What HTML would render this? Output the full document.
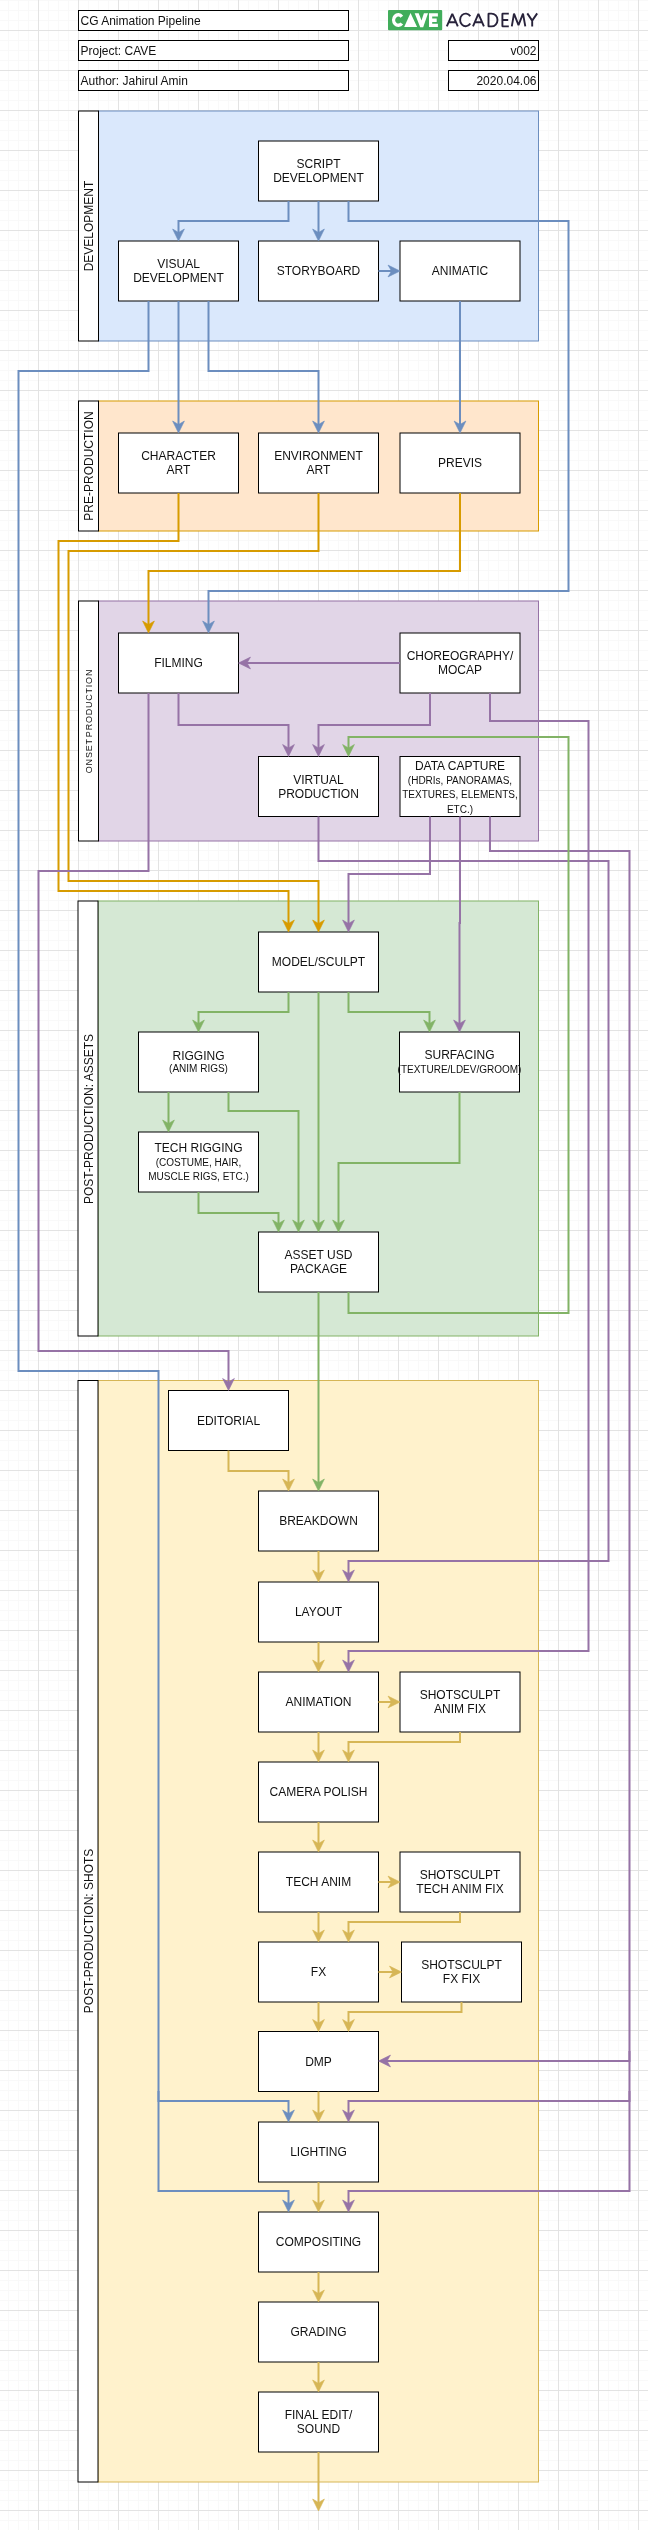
<!DOCTYPE html>
<html><head><meta charset="utf-8"><title>CG Animation Pipeline</title><style>
*{margin:0;padding:0;box-sizing:border-box}
html,body{width:648px;height:2530px;overflow:hidden;background:#fff}
body{position:relative;font-family:"Liberation Sans",sans-serif;
 background-color:#fff;
 background-image:
  linear-gradient(to right, #e3e3e3 1px, transparent 1px),
  linear-gradient(to bottom, #e3e3e3 1px, transparent 1px),
  linear-gradient(to right, #f9f9f9 1px, transparent 1px),
  linear-gradient(to bottom, #f9f9f9 1px, transparent 1px);
 background-size:40px 40px,40px 40px,10px 10px,10px 10px;
 background-position:38px 0,0 30px,8px 0,0 0;
}
svg{position:absolute;left:0;top:0}
.txt{position:absolute;left:0;top:0;width:648px;height:2530px;will-change:transform}
.lb{position:absolute;width:120px;height:60px;display:flex;align-items:center;justify-content:center;text-align:center;font-size:12px;line-height:1.2;color:#111;white-space:nowrap}
.s10{font-size:10px}
.s10b{font-size:10px;line-height:12px;display:block}
.vl{position:absolute;transform:translate(-50%,-50%) rotate(-90deg);white-space:nowrap;color:#111;line-height:1}
.hd{position:absolute;height:20px;line-height:20px;font-size:12px;color:#111;white-space:nowrap}
.acad{position:absolute;left:445px;top:9px;font-size:19px;line-height:22px;color:#27233b;letter-spacing:0px;white-space:nowrap}
</style></head>
<body>
<svg width="648" height="2530" viewBox="0 0 648 2530">
<rect x="98.5" y="111" width="440" height="230" fill="#dae8fc" stroke="#6c8ebf"/>
<rect x="78.5" y="111" width="20" height="230" fill="#fff" stroke="#000"/>
<rect x="98.5" y="401" width="440" height="130" fill="#ffe6cc" stroke="#d79b00"/>
<rect x="78.5" y="401" width="20" height="130" fill="#fff" stroke="#000"/>
<rect x="98.5" y="601" width="440" height="240" fill="#e1d5e7" stroke="#9673a6"/>
<rect x="78.5" y="601" width="20" height="240" fill="#fff" stroke="#000"/>
<rect x="98" y="901" width="440.5" height="435" fill="#d5e8d4" stroke="#82b366"/>
<rect x="78" y="901" width="20" height="435" fill="#fff" stroke="#000"/>
<rect x="98" y="1380.5" width="440.5" height="1101.5" fill="#fff2cc" stroke="#d6b656"/>
<rect x="78" y="1380.5" width="20" height="1101.5" fill="#fff" stroke="#000"/>
<rect x="258.5" y="141" width="120" height="60" fill="#fff" stroke="#000"/>
<rect x="118.5" y="241" width="120" height="60" fill="#fff" stroke="#000"/>
<rect x="258.5" y="241" width="120" height="60" fill="#fff" stroke="#000"/>
<rect x="400" y="241" width="120" height="60" fill="#fff" stroke="#000"/>
<rect x="118.5" y="433" width="120" height="60" fill="#fff" stroke="#000"/>
<rect x="258.5" y="433" width="120" height="60" fill="#fff" stroke="#000"/>
<rect x="400" y="433" width="120" height="60" fill="#fff" stroke="#000"/>
<rect x="118.5" y="633" width="120" height="60" fill="#fff" stroke="#000"/>
<rect x="400" y="633" width="120" height="60" fill="#fff" stroke="#000"/>
<rect x="258.5" y="756.5" width="120" height="60" fill="#fff" stroke="#000"/>
<rect x="400" y="756.5" width="120" height="60" fill="#fff" stroke="#000"/>
<rect x="258.5" y="932" width="120" height="60" fill="#fff" stroke="#000"/>
<rect x="138.5" y="1032" width="120" height="60" fill="#fff" stroke="#000"/>
<rect x="399.5" y="1032" width="120" height="60" fill="#fff" stroke="#000"/>
<rect x="138.5" y="1132" width="120" height="60" fill="#fff" stroke="#000"/>
<rect x="258.5" y="1232" width="120" height="60" fill="#fff" stroke="#000"/>
<rect x="168.5" y="1390.5" width="120" height="60" fill="#fff" stroke="#000"/>
<rect x="258.5" y="1491" width="120" height="60" fill="#fff" stroke="#000"/>
<rect x="258.5" y="1582" width="120" height="60" fill="#fff" stroke="#000"/>
<rect x="258.5" y="1672" width="120" height="60" fill="#fff" stroke="#000"/>
<rect x="400" y="1672" width="120" height="60" fill="#fff" stroke="#000"/>
<rect x="258.5" y="1762" width="120" height="60" fill="#fff" stroke="#000"/>
<rect x="258.5" y="1852" width="120" height="60" fill="#fff" stroke="#000"/>
<rect x="400" y="1852" width="120" height="60" fill="#fff" stroke="#000"/>
<rect x="258.5" y="1942" width="120" height="60" fill="#fff" stroke="#000"/>
<rect x="401.5" y="1942" width="120" height="60" fill="#fff" stroke="#000"/>
<rect x="258.5" y="2031.5" width="120" height="60" fill="#fff" stroke="#000"/>
<rect x="258.5" y="2122" width="120" height="60" fill="#fff" stroke="#000"/>
<rect x="258.5" y="2212" width="120" height="60" fill="#fff" stroke="#000"/>
<rect x="258.5" y="2302" width="120" height="60" fill="#fff" stroke="#000"/>
<rect x="258.5" y="2392" width="120" height="60" fill="#fff" stroke="#000"/>
<path d="M288.5,201 L288.5,221 L178.5,221 L178.5,234" fill="none" stroke="#6c8ebf" stroke-width="2"/>
<polygon points="178.5,241 172.6,229 178.5,232.5 184.4,229" fill="#6c8ebf" stroke="#6c8ebf" stroke-width="0.6"/>
<path d="M318.5,201 L318.5,234" fill="none" stroke="#6c8ebf" stroke-width="2"/>
<polygon points="318.5,241 312.6,229 318.5,232.5 324.4,229" fill="#6c8ebf" stroke="#6c8ebf" stroke-width="0.6"/>
<path d="M348.5,201 L348.5,221 L568.5,221 L568.5,591 L208.5,591 L208.5,626" fill="none" stroke="#6c8ebf" stroke-width="2"/>
<polygon points="208.5,633 202.6,621 208.5,624.5 214.4,621" fill="#6c8ebf" stroke="#6c8ebf" stroke-width="0.6"/>
<path d="M378.5,271 L393,271" fill="none" stroke="#6c8ebf" stroke-width="2"/>
<polygon points="400,271 388,265.1 391.5,271 388,276.9" fill="#6c8ebf" stroke="#6c8ebf" stroke-width="0.6"/>
<path d="M460,301 L460,426" fill="none" stroke="#6c8ebf" stroke-width="2"/>
<polygon points="460,433 454.1,421 460,424.5 465.9,421" fill="#6c8ebf" stroke="#6c8ebf" stroke-width="0.6"/>
<path d="M178.5,301 L178.5,426" fill="none" stroke="#6c8ebf" stroke-width="2"/>
<polygon points="178.5,433 172.6,421 178.5,424.5 184.4,421" fill="#6c8ebf" stroke="#6c8ebf" stroke-width="0.6"/>
<path d="M208.5,301 L208.5,371 L318.5,371 L318.5,426" fill="none" stroke="#6c8ebf" stroke-width="2"/>
<polygon points="318.5,433 312.6,421 318.5,424.5 324.4,421" fill="#6c8ebf" stroke="#6c8ebf" stroke-width="0.6"/>
<path d="M148.5,301 L148.5,371 L18.5,371 L18.5,1371 L158.5,1371 L158.5,2101 L288.5,2101 L288.5,2115" fill="none" stroke="#6c8ebf" stroke-width="2"/>
<polygon points="288.5,2122 282.6,2110 288.5,2113.5 294.4,2110" fill="#6c8ebf" stroke="#6c8ebf" stroke-width="0.6"/>
<path d="M158.5,2091 L158.5,2191 L288.5,2191 L288.5,2205" fill="none" stroke="#6c8ebf" stroke-width="2"/>
<polygon points="288.5,2212 282.6,2200 288.5,2203.5 294.4,2200" fill="#6c8ebf" stroke="#6c8ebf" stroke-width="0.6"/>
<path d="M178.5,493 L178.5,541 L58.5,541 L58.5,891 L288.5,891 L288.5,925" fill="none" stroke="#d79b00" stroke-width="2"/>
<polygon points="288.5,932 282.6,920 288.5,923.5 294.4,920" fill="#d79b00" stroke="#d79b00" stroke-width="0.6"/>
<path d="M318.5,493 L318.5,551 L68.5,551 L68.5,881 L318.5,881 L318.5,925" fill="none" stroke="#d79b00" stroke-width="2"/>
<polygon points="318.5,932 312.6,920 318.5,923.5 324.4,920" fill="#d79b00" stroke="#d79b00" stroke-width="0.6"/>
<path d="M460,493 L460,571 L148.5,571 L148.5,626" fill="none" stroke="#d79b00" stroke-width="2"/>
<polygon points="148.5,633 142.6,621 148.5,624.5 154.4,621" fill="#d79b00" stroke="#d79b00" stroke-width="0.6"/>
<path d="M400,663 L245.5,663" fill="none" stroke="#9673a6" stroke-width="2"/>
<polygon points="238.5,663 250.5,657.1 247,663 250.5,668.9" fill="#9673a6" stroke="#9673a6" stroke-width="0.6"/>
<path d="M178.5,693 L178.5,725 L288.5,725 L288.5,749.5" fill="none" stroke="#9673a6" stroke-width="2"/>
<polygon points="288.5,756.5 282.6,744.5 288.5,748 294.4,744.5" fill="#9673a6" stroke="#9673a6" stroke-width="0.6"/>
<path d="M430,693 L430,725 L318.5,725 L318.5,749.5" fill="none" stroke="#9673a6" stroke-width="2"/>
<polygon points="318.5,756.5 312.6,744.5 318.5,748 324.4,744.5" fill="#9673a6" stroke="#9673a6" stroke-width="0.6"/>
<path d="M490,693 L490,721 L588.5,721 L588.5,1651 L348.5,1651 L348.5,1665" fill="none" stroke="#9673a6" stroke-width="2"/>
<polygon points="348.5,1672 342.6,1660 348.5,1663.5 354.4,1660" fill="#9673a6" stroke="#9673a6" stroke-width="0.6"/>
<path d="M148.5,693 L148.5,871 L38.5,871 L38.5,1351 L228.5,1351 L228.5,1383.5" fill="none" stroke="#9673a6" stroke-width="2"/>
<polygon points="228.5,1390.5 222.6,1378.5 228.5,1382 234.4,1378.5" fill="#9673a6" stroke="#9673a6" stroke-width="0.6"/>
<path d="M318.5,816.5 L318.5,861 L608.5,861 L608.5,1561 L348.5,1561 L348.5,1575" fill="none" stroke="#9673a6" stroke-width="2"/>
<polygon points="348.5,1582 342.6,1570 348.5,1573.5 354.4,1570" fill="#9673a6" stroke="#9673a6" stroke-width="0.6"/>
<path d="M430,816.5 L430,874 L348.5,874 L348.5,925" fill="none" stroke="#9673a6" stroke-width="2"/>
<polygon points="348.5,932 342.6,920 348.5,923.5 354.4,920" fill="#9673a6" stroke="#9673a6" stroke-width="0.6"/>
<path d="M460,816.5 L460,923 L459.5,923 L459.5,1025" fill="none" stroke="#9673a6" stroke-width="2"/>
<polygon points="459.5,1032 453.6,1020 459.5,1023.5 465.4,1020" fill="#9673a6" stroke="#9673a6" stroke-width="0.6"/>
<path d="M490,816.5 L490,851 L629.5,851 L629.5,2061 L385.5,2061" fill="none" stroke="#9673a6" stroke-width="2"/>
<polygon points="378.5,2061 390.5,2055.1 387,2061 390.5,2066.9" fill="#9673a6" stroke="#9673a6" stroke-width="0.6"/>
<path d="M629.5,2051 L629.5,2101 L348.5,2101 L348.5,2115" fill="none" stroke="#9673a6" stroke-width="2"/>
<polygon points="348.5,2122 342.6,2110 348.5,2113.5 354.4,2110" fill="#9673a6" stroke="#9673a6" stroke-width="0.6"/>
<path d="M629.5,2091 L629.5,2191 L348.5,2191 L348.5,2205" fill="none" stroke="#9673a6" stroke-width="2"/>
<polygon points="348.5,2212 342.6,2200 348.5,2203.5 354.4,2200" fill="#9673a6" stroke="#9673a6" stroke-width="0.6"/>
<path d="M288.5,992 L288.5,1012 L198.5,1012 L198.5,1025" fill="none" stroke="#82b366" stroke-width="2"/>
<polygon points="198.5,1032 192.6,1020 198.5,1023.5 204.4,1020" fill="#82b366" stroke="#82b366" stroke-width="0.6"/>
<path d="M318.5,992 L318.5,1225" fill="none" stroke="#82b366" stroke-width="2"/>
<polygon points="318.5,1232 312.6,1220 318.5,1223.5 324.4,1220" fill="#82b366" stroke="#82b366" stroke-width="0.6"/>
<path d="M348.5,992 L348.5,1012 L429.5,1012 L429.5,1025" fill="none" stroke="#82b366" stroke-width="2"/>
<polygon points="429.5,1032 423.6,1020 429.5,1023.5 435.4,1020" fill="#82b366" stroke="#82b366" stroke-width="0.6"/>
<path d="M168.5,1092 L168.5,1125" fill="none" stroke="#82b366" stroke-width="2"/>
<polygon points="168.5,1132 162.6,1120 168.5,1123.5 174.4,1120" fill="#82b366" stroke="#82b366" stroke-width="0.6"/>
<path d="M228.5,1092 L228.5,1111 L298.5,1111 L298.5,1225" fill="none" stroke="#82b366" stroke-width="2"/>
<polygon points="298.5,1232 292.6,1220 298.5,1223.5 304.4,1220" fill="#82b366" stroke="#82b366" stroke-width="0.6"/>
<path d="M198.5,1192 L198.5,1213 L278.5,1213 L278.5,1225" fill="none" stroke="#82b366" stroke-width="2"/>
<polygon points="278.5,1232 272.6,1220 278.5,1223.5 284.4,1220" fill="#82b366" stroke="#82b366" stroke-width="0.6"/>
<path d="M459.5,1092 L459.5,1163 L338.5,1163 L338.5,1225" fill="none" stroke="#82b366" stroke-width="2"/>
<polygon points="338.5,1232 332.6,1220 338.5,1223.5 344.4,1220" fill="#82b366" stroke="#82b366" stroke-width="0.6"/>
<path d="M318.5,1292 L318.5,1484" fill="none" stroke="#82b366" stroke-width="2"/>
<polygon points="318.5,1491 312.6,1479 318.5,1482.5 324.4,1479" fill="#82b366" stroke="#82b366" stroke-width="0.6"/>
<path d="M348.5,1292 L348.5,1313 L568.5,1313 L568.5,737 L348.5,737 L348.5,749.5" fill="none" stroke="#82b366" stroke-width="2"/>
<polygon points="348.5,756.5 342.6,744.5 348.5,748 354.4,744.5" fill="#82b366" stroke="#82b366" stroke-width="0.6"/>
<path d="M228.5,1450.5 L228.5,1471 L288.5,1471 L288.5,1484" fill="none" stroke="#d6b656" stroke-width="2"/>
<polygon points="288.5,1491 282.6,1479 288.5,1482.5 294.4,1479" fill="#d6b656" stroke="#d6b656" stroke-width="0.6"/>
<path d="M318.5,1551 L318.5,1575" fill="none" stroke="#d6b656" stroke-width="2"/>
<polygon points="318.5,1582 312.6,1570 318.5,1573.5 324.4,1570" fill="#d6b656" stroke="#d6b656" stroke-width="0.6"/>
<path d="M318.5,1642 L318.5,1665" fill="none" stroke="#d6b656" stroke-width="2"/>
<polygon points="318.5,1672 312.6,1660 318.5,1663.5 324.4,1660" fill="#d6b656" stroke="#d6b656" stroke-width="0.6"/>
<path d="M378.5,1702 L393,1702" fill="none" stroke="#d6b656" stroke-width="2"/>
<polygon points="400,1702 388,1696.1 391.5,1702 388,1707.9" fill="#d6b656" stroke="#d6b656" stroke-width="0.6"/>
<path d="M460,1732 L460,1742 L348.5,1742 L348.5,1755" fill="none" stroke="#d6b656" stroke-width="2"/>
<polygon points="348.5,1762 342.6,1750 348.5,1753.5 354.4,1750" fill="#d6b656" stroke="#d6b656" stroke-width="0.6"/>
<path d="M318.5,1732 L318.5,1755" fill="none" stroke="#d6b656" stroke-width="2"/>
<polygon points="318.5,1762 312.6,1750 318.5,1753.5 324.4,1750" fill="#d6b656" stroke="#d6b656" stroke-width="0.6"/>
<path d="M318.5,1822 L318.5,1845" fill="none" stroke="#d6b656" stroke-width="2"/>
<polygon points="318.5,1852 312.6,1840 318.5,1843.5 324.4,1840" fill="#d6b656" stroke="#d6b656" stroke-width="0.6"/>
<path d="M378.5,1882 L393,1882" fill="none" stroke="#d6b656" stroke-width="2"/>
<polygon points="400,1882 388,1876.1 391.5,1882 388,1887.9" fill="#d6b656" stroke="#d6b656" stroke-width="0.6"/>
<path d="M460,1912 L460,1922 L348.5,1922 L348.5,1935" fill="none" stroke="#d6b656" stroke-width="2"/>
<polygon points="348.5,1942 342.6,1930 348.5,1933.5 354.4,1930" fill="#d6b656" stroke="#d6b656" stroke-width="0.6"/>
<path d="M318.5,1912 L318.5,1935" fill="none" stroke="#d6b656" stroke-width="2"/>
<polygon points="318.5,1942 312.6,1930 318.5,1933.5 324.4,1930" fill="#d6b656" stroke="#d6b656" stroke-width="0.6"/>
<path d="M378.5,1972 L394.5,1972" fill="none" stroke="#d6b656" stroke-width="2"/>
<polygon points="401.5,1972 389.5,1966.1 393,1972 389.5,1977.9" fill="#d6b656" stroke="#d6b656" stroke-width="0.6"/>
<path d="M461.5,2002 L461.5,2012 L348.5,2012 L348.5,2024.5" fill="none" stroke="#d6b656" stroke-width="2"/>
<polygon points="348.5,2031.5 342.6,2019.5 348.5,2023 354.4,2019.5" fill="#d6b656" stroke="#d6b656" stroke-width="0.6"/>
<path d="M318.5,2002 L318.5,2024.5" fill="none" stroke="#d6b656" stroke-width="2"/>
<polygon points="318.5,2031.5 312.6,2019.5 318.5,2023 324.4,2019.5" fill="#d6b656" stroke="#d6b656" stroke-width="0.6"/>
<path d="M318.5,2091.5 L318.5,2115" fill="none" stroke="#d6b656" stroke-width="2"/>
<polygon points="318.5,2122 312.6,2110 318.5,2113.5 324.4,2110" fill="#d6b656" stroke="#d6b656" stroke-width="0.6"/>
<path d="M318.5,2182 L318.5,2205" fill="none" stroke="#d6b656" stroke-width="2"/>
<polygon points="318.5,2212 312.6,2200 318.5,2203.5 324.4,2200" fill="#d6b656" stroke="#d6b656" stroke-width="0.6"/>
<path d="M318.5,2272 L318.5,2295" fill="none" stroke="#d6b656" stroke-width="2"/>
<polygon points="318.5,2302 312.6,2290 318.5,2293.5 324.4,2290" fill="#d6b656" stroke="#d6b656" stroke-width="0.6"/>
<path d="M318.5,2362 L318.5,2385" fill="none" stroke="#d6b656" stroke-width="2"/>
<polygon points="318.5,2392 312.6,2380 318.5,2383.5 324.4,2380" fill="#d6b656" stroke="#d6b656" stroke-width="0.6"/>
<path d="M318.5,2452 L318.5,2504" fill="none" stroke="#d6b656" stroke-width="2"/>
<polygon points="318.5,2511 312.6,2499 318.5,2502.5 324.4,2499" fill="#d6b656" stroke="#d6b656" stroke-width="0.6"/>
<rect x="78.5" y="10.5" width="270" height="20" fill="#fff" stroke="#000"/>
<rect x="78.5" y="40.5" width="270" height="20" fill="#fff" stroke="#000"/>
<rect x="78.5" y="70.5" width="270" height="20" fill="#fff" stroke="#000"/>
<rect x="448.5" y="40.5" width="90" height="20" fill="#fff" stroke="#000"/>
<rect x="448.5" y="70.5" width="90" height="20" fill="#fff" stroke="#000"/>

<rect x="388" y="10" width="54.2" height="20.3" rx="1" fill="#41ad5b"/>
<path d="M401.8,16.67 A4.6,5.25 0 1 0 401.8,23.43" fill="none" stroke="#fff" stroke-width="3.4"/>
<polygon points="410.5,13.1 404.2,27 417.1,27" fill="#fff"/>
<polygon points="414.7,13.3 418.7,13.3 421.5,20.4 423.9,13.3 428,13.3 423.2,27.3 420.2,27.3" fill="#fff"/>
<path d="M429,13.3 H437.9 V16.4 H432.2 V18.6 H436.7 V22.1 H432.2 V23.8 H437.9 V27 H429 Z" fill="#fff"/>
<g fill="none" stroke="#28233b" stroke-width="1.9" stroke-linejoin="bevel">
<path d="M446.8,26.4 L452.3,13.9 L457.8,26.4 M449.3,22.3 H455.3"/>
<path d="M470.3,16.3 A5.6,6.3 0 1 0 470.3,23.5"/>
<path d="M473.0,26.4 L478.4,13.9 L483.9,26.4 M475.5,22.3 H481.4"/>
<path d="M488.5,13.6 H491.5 A6,6.4 0 0 1 491.5,26.4 H488.5 Z"/>
<path d="M508.8,13.6 H502.4 V26.4 H508.8 M502.4,20 H508.2"/>
<path d="M511.8,26.4 L514,13.6 L518.5,25.2 L523,13.6 L525.3,26.4"/>
<path d="M527.3,13.4 L532.2,20.6 L537.2,13.4 M532.2,20.6 V26.4"/>
</g>

</svg>
<div class="txt">
<div class="vl" style="left:88.5px;top:226.0px;font-size:12px;">DEVELOPMENT</div>
<div class="vl" style="left:88.5px;top:466.0px;font-size:12px;">PRE-PRODUCTION</div>
<div class="vl" style="left:89.3px;top:721.0px;font-size:9px;letter-spacing:0.78px;word-spacing:-2px;">ONSET PRODUCTION</div>
<div class="vl" style="left:88.5px;top:1118.5px;font-size:12px;">POST-PRODUCTION: ASSETS</div>
<div class="vl" style="left:88.5px;top:1931.25px;font-size:12px;">POST-PRODUCTION: SHOTS</div>
<div class="lb" style="left:258.5px;top:141.3px"><div>SCRIPT<br>DEVELOPMENT</div></div>
<div class="lb" style="left:118.5px;top:241.3px"><div>VISUAL<br>DEVELOPMENT</div></div>
<div class="lb" style="left:258.5px;top:241.3px"><div>STORYBOARD</div></div>
<div class="lb" style="left:400px;top:241.3px"><div>ANIMATIC</div></div>
<div class="lb" style="left:118.5px;top:433.3px"><div>CHARACTER<br>ART</div></div>
<div class="lb" style="left:258.5px;top:433.3px"><div>ENVIRONMENT<br>ART</div></div>
<div class="lb" style="left:400px;top:433.3px"><div>PREVIS</div></div>
<div class="lb" style="left:118.5px;top:633.3px"><div>FILMING</div></div>
<div class="lb" style="left:400px;top:633.3px"><div>CHOREOGRAPHY/<br>MOCAP</div></div>
<div class="lb" style="left:258.5px;top:757.3px"><div>VIRTUAL<br>PRODUCTION</div></div>
<div class="lb" style="left:400px;top:757.3px"><div>DATA CAPTURE<br><span class="s10">(HDRIs, PANORAMAS,</span><br><span class="s10">TEXTURES, ELEMENTS,</span><br><span class="s10">ETC.)</span></div></div>
<div class="lb" style="left:258.5px;top:932.3px"><div>MODEL/SCULPT</div></div>
<div class="lb" style="left:138.5px;top:1032.3px"><div><div>RIGGING</div><span class="s10b">(ANIM RIGS)</span></div></div>
<div class="lb" style="left:399.5px;top:1032.3px"><div>SURFACING<br><span class="s10">(TEXTURE/LDEV/GROOM)</span></div></div>
<div class="lb" style="left:138.5px;top:1132.3px"><div>TECH RIGGING<br><span class="s10">(COSTUME, HAIR,</span><br><span class="s10">MUSCLE RIGS, ETC.)</span></div></div>
<div class="lb" style="left:258.5px;top:1232.3px"><div>ASSET USD<br>PACKAGE</div></div>
<div class="lb" style="left:168.5px;top:1391.3px"><div>EDITORIAL</div></div>
<div class="lb" style="left:258.5px;top:1491.3px"><div>BREAKDOWN</div></div>
<div class="lb" style="left:258.5px;top:1582.3px"><div>LAYOUT</div></div>
<div class="lb" style="left:258.5px;top:1672.3px"><div>ANIMATION</div></div>
<div class="lb" style="left:400px;top:1672.3px"><div>SHOTSCULPT<br>ANIM FIX</div></div>
<div class="lb" style="left:258.5px;top:1762.3px"><div>CAMERA POLISH</div></div>
<div class="lb" style="left:258.5px;top:1852.3px"><div>TECH ANIM</div></div>
<div class="lb" style="left:400px;top:1852.3px"><div>SHOTSCULPT<br>TECH ANIM FIX</div></div>
<div class="lb" style="left:258.5px;top:1942.3px"><div>FX</div></div>
<div class="lb" style="left:401.5px;top:1942.3px"><div>SHOTSCULPT<br>FX FIX</div></div>
<div class="lb" style="left:258.5px;top:2032.3px"><div>DMP</div></div>
<div class="lb" style="left:258.5px;top:2122.3px"><div>LIGHTING</div></div>
<div class="lb" style="left:258.5px;top:2212.3px"><div>COMPOSITING</div></div>
<div class="lb" style="left:258.5px;top:2302.3px"><div>GRADING</div></div>
<div class="lb" style="left:258.5px;top:2392.3px"><div>FINAL EDIT/<br>SOUND</div></div>
<div class="hd" style="left:80.5px;top:10.5px;width:266px;text-align:left">CG Animation Pipeline</div>
<div class="hd" style="left:80.5px;top:40.5px;width:266px;text-align:left">Project: CAVE</div>
<div class="hd" style="left:80.5px;top:70.5px;width:266px;text-align:left">Author: Jahirul Amin</div>
<div class="hd" style="left:450.5px;top:40.5px;width:86px;text-align:right">v002</div>
<div class="hd" style="left:450.5px;top:70.5px;width:86px;text-align:right">2020.04.06</div>
</div>
</body></html>
